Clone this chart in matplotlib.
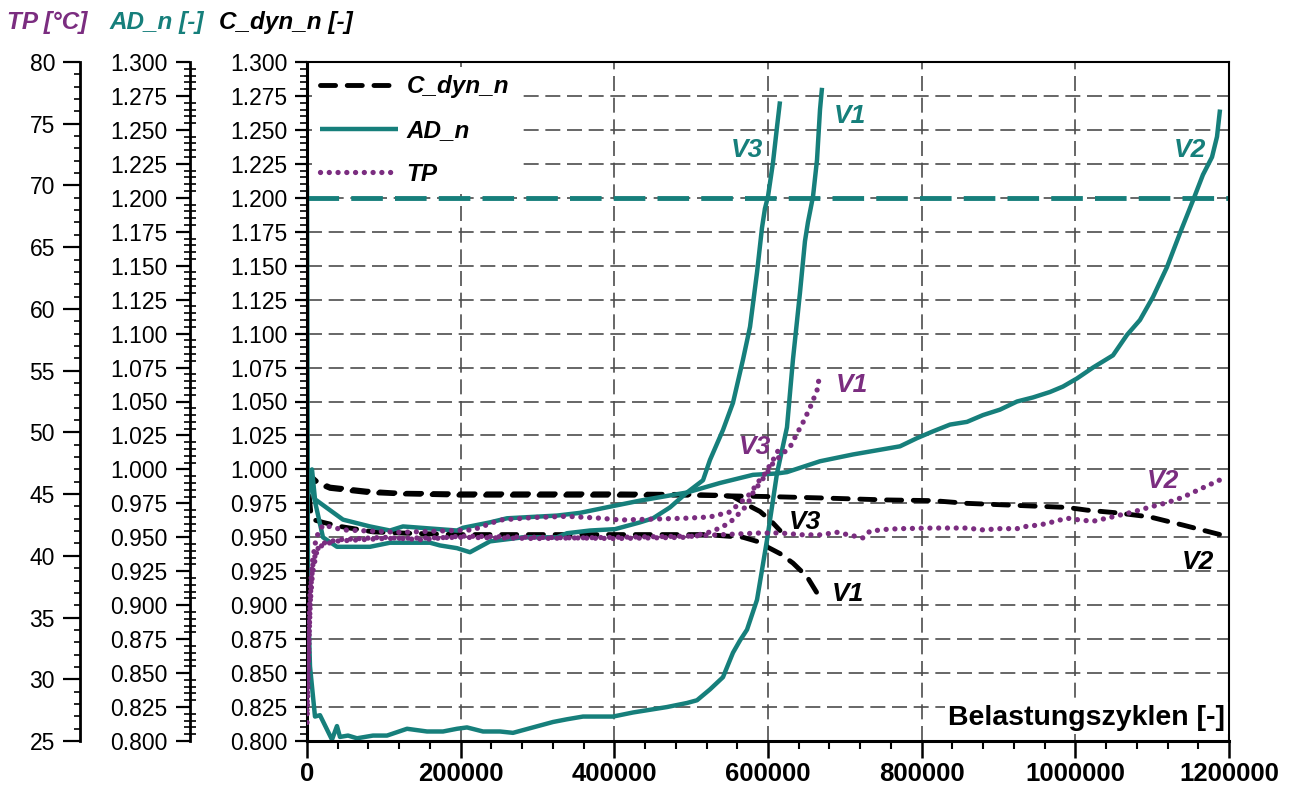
import numpy as np
import matplotlib.pyplot as plt
from matplotlib.ticker import MultipleLocator, FormatStrFormatter
from matplotlib.font_manager import FontProperties

plt.rcParams['font.family'] = ['Liberation Sans', 'DejaVu Sans']

TEAL = '#167f7b'
PURPLE = '#7b2d80'

# --- AD_n (normalised damping) ---
ad_v1_x = [0, 1300, 3900, 10400, 16900, 32500, 39000, 42900, 53400, 65100, 85900, 104100,
           130200, 156200, 177000, 195200, 208200, 229100, 251200, 268100, 294100, 320200,
           338400, 359200, 381300, 398300, 424300, 446400, 468500, 494600, 507600, 524500,
           541400, 554400, 563500, 572700, 585700, 598700, 611700, 624700, 632500, 641600,
           648100, 652000, 658600, 663800, 667700, 670300]
ad_v1 = [1.209, 0.904, 0.855, 0.818, 0.819, 0.801, 0.811, 0.803, 0.804, 0.802, 0.804, 0.804,
         0.809, 0.807, 0.807, 0.809, 0.810, 0.807, 0.807, 0.806, 0.810, 0.814,
         0.816, 0.818, 0.818, 0.818, 0.821, 0.823, 0.825, 0.828, 0.830, 0.838,
         0.847, 0.865, 0.874, 0.882, 0.904, 0.948, 0.997, 1.031, 1.081, 1.130,
         1.168, 1.182, 1.201, 1.228, 1.265, 1.281]

ad_v2_x = [0, 6500, 10400, 46900, 82000, 108000, 124900, 195200, 203000, 238200, 260300,
           325400, 355300, 398300, 433400, 494600, 537500, 580500, 611700, 624700, 667700,
           710600, 771800, 793900, 814700, 836900, 859000, 879800, 901900, 924100, 944900,
           967000, 983900, 1002200, 1023000, 1049000, 1067200, 1084100, 1101100, 1119300,
           1136200, 1153100, 1166100, 1177900, 1184400, 1188300]
ad_v2 = [0.975, 1.000, 0.978, 0.963, 0.958, 0.955, 0.958, 0.955, 0.957, 0.961, 0.964,
         0.966, 0.968, 0.973, 0.977, 0.983, 0.990, 0.996, 0.997, 0.998, 1.006,
         1.011, 1.017, 1.023, 1.028, 1.033, 1.035, 1.040, 1.044, 1.050, 1.053,
         1.057, 1.061, 1.067, 1.075, 1.084, 1.099, 1.110, 1.127, 1.149,
         1.174, 1.198, 1.217, 1.230, 1.245, 1.265]

ad_v3_x = [0, 5000, 20800, 39000, 82000, 108000, 160100, 173100, 195200, 212100, 238200,
           281100, 325400, 338400, 368300, 400900, 433400, 450300, 472400, 494600, 515400,
           524500, 541400, 554400, 567500, 576600, 585700, 592200, 596000, 600000, 606500,
           611700, 615600]
ad_v3 = [1.000, 0.990, 0.950, 0.943, 0.943, 0.946, 0.946, 0.944, 0.942, 0.939, 0.947,
         0.950, 0.950, 0.953, 0.955, 0.956, 0.961, 0.964, 0.972, 0.983, 0.992,
         1.007, 1.029, 1.049, 1.081, 1.105, 1.145, 1.178, 1.192, 1.201, 1.226,
         1.252, 1.271]

ad_limit = 1.2

# --- C_dyn_n (normalised dynamic stiffness) ---
c_v1_x = [0, 2000, 5000, 8000, 20800, 43000, 86000, 130000, 195000, 281000, 433000, 520000,
          567500, 585700, 598700, 615600, 632500, 650800, 663800, 671600]
c_v1 = [1.000, 0.985, 0.968, 0.963, 0.961, 0.958, 0.954, 0.953, 0.952, 0.952, 0.952, 0.952,
        0.950, 0.947, 0.943, 0.938, 0.931, 0.921, 0.909, 0.904]

c_v2_x = [0, 5000, 13000, 30000, 78000, 120000, 200000, 300000, 400000, 500000, 600000,
          667700, 754900, 814700, 859000, 901900, 944900, 989100, 1015200, 1054200, 1097100,
          1140100, 1188300]
c_v2 = [1.000, 0.994, 0.990, 0.986, 0.983, 0.982, 0.981, 0.981, 0.981, 0.981, 0.980,
        0.979, 0.9775, 0.977, 0.975, 0.974, 0.973, 0.972, 0.970, 0.968, 0.965,
        0.959, 0.952]

c_v3_x = [0, 5000, 13000, 30000, 78000, 120000, 200000, 300000, 400000, 500000, 533600,
          554400, 572700, 589600, 604000, 615600]
c_v3 = [1.000, 0.995, 0.991, 0.987, 0.984, 0.9825, 0.982, 0.982, 0.982, 0.9815, 0.981,
        0.980, 0.974, 0.969, 0.962, 0.955]

# --- TP (temperature, deg C) ---
tp_v1_x = [0, 1500, 3000, 5000, 8000, 13000, 20000, 40000, 100000, 150000, 200000, 300000,
           400000, 494600, 520600, 537500, 550500, 563500, 572700, 580500, 589600, 598700,
           606500, 619500, 628600, 637700, 645500, 654700, 663800, 667700]
tp_v1 = [26.5, 30.0, 34.0, 37.5, 39.5, 40.5, 41.0, 41.3, 41.5, 41.3, 41.6, 41.5,
         41.4, 41.5, 41.85, 42.25, 42.7, 43.5, 44.1, 45.1, 45.9, 46.7,
         47.5, 48.3, 48.8, 49.9, 50.8, 52.0, 53.4, 54.8]

tp_v2_x = [0, 2000, 4000, 7000, 12000, 20000, 40000, 100000, 200000, 300000, 400000, 500000,
           589600, 615600, 645500, 667700, 689800, 723600, 732700, 754900, 771800, 814700,
           859000, 879800, 901900, 924100, 937100, 954000, 970900, 989100, 1006000, 1023000,
           1041200, 1058100, 1075000, 1097100, 1119300, 1140100, 1162200, 1188300]
tp_v2 = [27.5, 32.0, 36.0, 38.5, 40.2, 40.9, 41.2, 41.4, 41.5, 41.4, 41.5, 41.6,
         41.85, 41.85, 41.7, 41.7, 41.9, 41.45, 42.0, 42.15, 42.2, 42.25,
         42.25, 42.1, 42.2, 42.2, 42.4, 42.5, 42.75, 43.05, 42.9, 42.8,
         43.05, 43.3, 43.55, 43.95, 44.3, 44.75, 45.4, 46.15]

tp_v3_x = [0, 2000, 4000, 7000, 12000, 20800, 46900, 121000, 216000, 251200, 294100, 338400,
           381300, 407400, 494600, 524500, 550500, 563500, 572700, 580500, 585700, 593500,
           598700, 606500, 615600]
tp_v3 = [29.0, 33.5, 37.0, 39.5, 41.5, 42.5, 42.1, 41.9, 42.1, 42.9, 43.1, 43.2,
         43.05, 42.9, 43.05, 43.15, 43.55, 44.3, 44.75, 45.35, 45.9, 46.4,
         46.95, 47.75, 48.8]

W, H = 1289, 787
fig = plt.figure(figsize=(W / 100, H / 100), dpi=100)
ax = fig.add_axes([307 / W, 1 - 741 / H, 922 / W, 679 / H])
ax_ad = ax.twinx()
ax_tp = ax.twinx()

# main axis (C_dyn_n)
ax.set_xlim(0, 1200000)
ax.set_ylim(0.8, 1.3)
ax.xaxis.set_major_locator(MultipleLocator(200000))
ax.xaxis.set_minor_locator(MultipleLocator(40000))
ax.xaxis.set_major_formatter(FormatStrFormatter('%d'))
ax.yaxis.set_major_locator(MultipleLocator(0.025))
ax.yaxis.set_minor_locator(MultipleLocator(0.005))
ax.yaxis.set_major_formatter(FormatStrFormatter('%.3f'))
ax.grid(True, which='major', color='#4d4d4d', linestyle=(0, (9, 4)), linewidth=1.2)
ax.set_axisbelow(True)
for s in ['top', 'right']:
    ax.spines[s].set_linewidth(1.5)
for s in ['left', 'bottom']:
    ax.spines[s].set_linewidth(2.2)
ax.tick_params(axis='x', which='major', direction='out', length=12, width=1.8, pad=3,
               labelsize=18.5)
ax.tick_params(axis='x', which='minor', direction='out', length=6, width=1.5)
ax.tick_params(axis='y', which='major', direction='out', length=9, width=1.6, pad=5,
               labelsize=16.5)
ax.tick_params(axis='y', which='minor', direction='out', length=5, width=1.2)
for lbl in ax.get_xticklabels():
    lbl.set_fontweight('bold')

# AD_n axis
ax_ad.set_ylim(0.8, 1.3)
ax_ad.yaxis.tick_left()
ax_ad.spines['left'].set_position(('axes', -0.1269))
for s in ['top', 'right', 'bottom']:
    ax_ad.spines[s].set_visible(False)
ax_ad.spines['left'].set_linewidth(2)
ax_ad.yaxis.set_major_locator(MultipleLocator(0.025))
ax_ad.yaxis.set_minor_locator(MultipleLocator(0.005))
ax_ad.yaxis.set_major_formatter(FormatStrFormatter('%.3f'))
ax_ad.tick_params(axis='y', which='major', direction='out', length=10, width=1.6, pad=6,
                  labelsize=16.5)
ax_ad.tick_params(axis='y', which='minor', direction='inout', length=8, width=1.2)

# TP axis
ax_tp.set_ylim(25, 80)
ax_tp.yaxis.tick_left()
ax_tp.spines['left'].set_position(('axes', -0.2462))
for s in ['top', 'right', 'bottom']:
    ax_tp.spines[s].set_visible(False)
ax_tp.spines['left'].set_linewidth(2)
ax_tp.yaxis.set_major_locator(MultipleLocator(5))
ax_tp.yaxis.set_minor_locator(MultipleLocator(1))
ax_tp.yaxis.set_major_formatter(FormatStrFormatter('%d'))
ax_tp.tick_params(axis='y', which='major', direction='out', length=12, width=1.6, pad=6,
                  labelsize=16.5)
ax_tp.tick_params(axis='y', which='minor', direction='out', length=4, width=1.2)

# curves
c_style = dict(color='black', lw=3.5, linestyle=(0, (3.1, 2.4)), dash_capstyle='round')
ad_style = dict(color=TEAL, lw=3.2, solid_capstyle='butt', solid_joinstyle='round')
tp_style = dict(color=PURPLE, lw=3.8, linestyle=(0, (0.01, 1.65)), dash_capstyle='round')

ax.axhline(ad_limit, color=TEAL, lw=3.5, linestyle=(0, (6.5, 2.5)), dash_capstyle='butt')
h_c, = ax.plot(c_v1_x, c_v1, **c_style)
ax.plot(c_v2_x, c_v2, **c_style)
ax.plot(c_v3_x, c_v3, **c_style)
h_ad, = ax.plot(ad_v1_x, ad_v1, **ad_style)
ax.plot(ad_v2_x, ad_v2, **ad_style)
ax.plot(ad_v3_x, ad_v3, **ad_style)
h_tp, = ax_tp.plot(tp_v1_x, tp_v1, **tp_style)
ax_tp.plot(tp_v2_x, tp_v2, **tp_style)
ax_tp.plot(tp_v3_x, tp_v3, **tp_style)

lab = dict(fontsize=19, fontweight='bold', fontstyle='italic', ha='center', va='center')
ax.text(572000, 1.2352, 'V3', color=TEAL, **lab)
ax.text(706700, 1.2602, 'V1', color=TEAL, **lab)
ax.text(1149200, 1.2352, 'V2', color=TEAL, **lab)
ax.text(709300, 1.0622, 'V1', color=PURPLE, **lab)
ax.text(583100, 1.0165, 'V3', color=PURPLE, **lab)
ax.text(1114100, 0.9915, 'V2', color=PURPLE, **lab)
ax.text(648100, 0.9613, 'V3', color='black', **lab)
ax.text(704100, 0.9082, 'V1', color='black', **lab)
ax.text(1159600, 0.9318, 'V2', color='black', **lab)

ax.text(0.9957, 0.034, 'Belastungszyklen [-]', transform=ax.transAxes, ha='right',
        va='center', fontsize=20.5, fontweight='bold',
        bbox=dict(facecolor='white', edgecolor='none', pad=2))

leg = ax_tp.legend([h_c, h_ad, h_tp], ['C_dyn_n', 'AD_n', 'TP'], loc='upper left',
                   bbox_to_anchor=(0, 1), borderaxespad=0.2, borderpad=0.35,
                   handlelength=3.2, handletextpad=0.35, labelspacing=0.85,
                   prop=FontProperties(family=['Liberation Sans', 'DejaVu Sans'],
                                       weight='bold', style='italic', size=17.5),
                   frameon=True, fancybox=False, framealpha=1, facecolor='white',
                   edgecolor='none')

title_kw = dict(fontsize=17.5, fontweight='bold', fontstyle='italic', ha='center', va='center')
fig.text(47 / W, 1 - 22 / H, 'TP [°C]', color=PURPLE, **title_kw)
fig.text(157 / W, 1 - 22 / H, 'AD_n [-]', color=TEAL, **title_kw)
fig.text(286 / W, 1 - 22 / H, 'C_dyn_n [-]', color='black', **title_kw)

fig.savefig('out.png', dpi=100)
